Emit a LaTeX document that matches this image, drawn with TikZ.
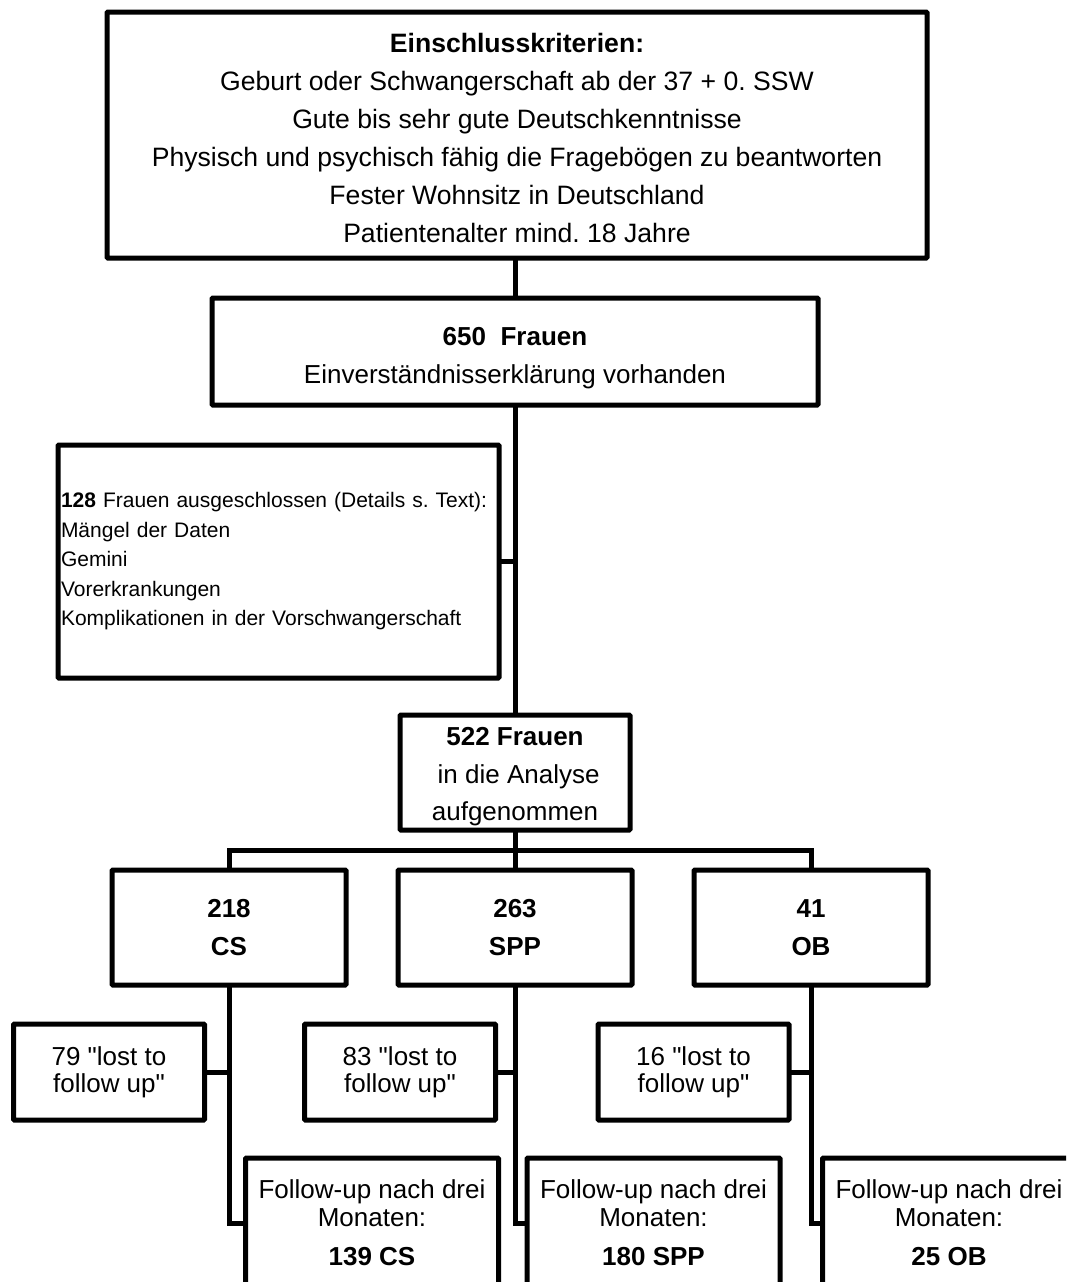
\documentclass[tikz,border=0pt]{standalone}
\usepackage{fontspec}
\setmainfont{Liberation Sans}[Ligatures=TeXOff]
\usetikzlibrary{positioning,calc}
\frenchspacing

\begin{document}
\begin{tikzpicture}[x=1pt, y=-1pt, line width=5pt,
  box/.style={rectangle, draw=black, line width=5pt, rounded corners=1pt, inner sep=0pt, outer sep=0pt, align=center, font=\fontsize{26}{37.5}\selectfont},
  groupbox/.style={box, minimum width=234pt, minimum height=115pt},
  lostbox/.style={box, minimum width=191pt, minimum height=96pt, font=\fontsize{26}{27}\selectfont},
  followbox/.style={box, minimum width=253pt, minimum height=130pt, font=\fontsize{26}{28}\selectfont}]

  \useasboundingbox (0,0) rectangle (1066,1282);
  \clip (0,0) rectangle (1066,1282);

  % Kriterien
  \node[box, minimum width=820pt, minimum height=246pt, font=\fontsize{26.6}{38}\selectfont] (crit) at (517,135) {\rule{0pt}{26pt}\textbf{Einschlusskriterien:}\\ Geburt oder Schwangerschaft ab der 37 + 0. SSW\\ Gute bis sehr gute Deutschkenntnisse\\ Physisch und psychisch fähig die Fragebögen zu beantworten\\ Fester Wohnsitz in Deutschland\\ Patientenalter mind. 18 Jahre};

  \node[box, minimum width=606pt, minimum height=107pt] (n650) at (515,351.5) {\rule{0pt}{31pt}\textbf{650~~Frauen}\\ Einverständnisserklärung vorhanden};

  % Ausschluss
  \node[box, align=left, text width=435pt, inner xsep=3pt, minimum height=233pt, font=\fontsize{21}{29.5}\selectfont] (excl) at (278.5,561.5) {\textbf{128} Frauen ausgeschlossen (Details s. Text):\\ Mängel der Daten\\ Gemini\\ Vorerkrankungen\\ Komplikationen in der Vorschwangerschaft};

  \node[box, minimum width=230pt, minimum height=115pt] (n522) at (515,772.5) {\rule{0pt}{27pt}\textbf{522 Frauen}\\ \ in die Analyse\\ aufgenommen};

  % Gruppen
  \node[groupbox] (spp) at (515,927.5) {\textbf{263}\\ \textbf{SPP}};
  \node[groupbox, left=52pt of spp] (cs) {\textbf{218}\\ \textbf{CS}};
  \node[groupbox, right=62pt of spp] (ob) {\textbf{41}\\ \textbf{OB}};

  % lost to follow up
  \node[lostbox] (lcs) at (109,1072) {79 "lost to\\ follow up"};
  \node[lostbox] (lspp) at (400,1072) {83 "lost to\\ follow up"};
  \node[lostbox] (lob) at (693.5,1072) {16 "lost to\\ follow up"};

  % Follow-up
  \node[followbox] (fcs) at (372,1223) {Follow-up nach drei\\ Monaten:\\[11pt] \textbf{139 CS}};
  \node[followbox] (fspp) at (653.5,1223) {Follow-up nach drei\\ Monaten:\\[11pt] \textbf{180 SPP}};
  \node[followbox] (fob) at (949,1223) {Follow-up nach drei\\ Monaten:\\[11pt] \textbf{25 OB}};

  \draw (crit.south -| n650.north) -- (n650.north);
  \draw (n650.south) -- (n522.north);
  \draw (excl.east) -- (excl.east -| n650.south);

  \coordinate (split) at ($(n522.south)!0.5!(spp.north)$);
  \draw (n522.south) -- (spp.north);
  \draw (cs.north) |- (split) -| (ob.north);

  \draw (cs.south) |- (fcs.west);
  \draw (spp.south) |- (fspp.west);
  \draw (ob.south) |- (fob.west);

  \draw (lcs.east) -- (lcs.east -| cs.south);
  \draw (lspp.east) -- (lspp.east -| spp.south);
  \draw (lob.east) -- (lob.east -| ob.south);

\end{tikzpicture}
\end{document}
